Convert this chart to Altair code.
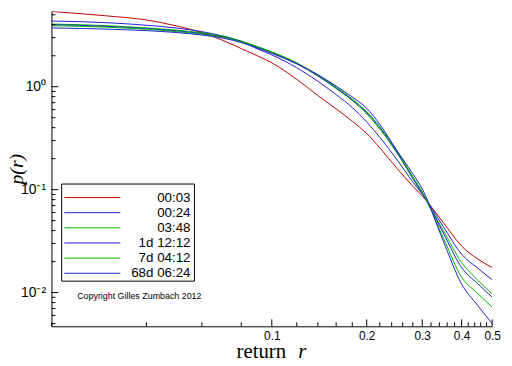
import altair as alt
import pandas as pd

# ---- data ----
x_vals = [0.02, 0.03, 0.04, 0.05, 0.06, 0.07, 0.08, 0.09, 0.1, 0.12, 0.14, 0.16,
          0.18, 0.2, 0.22, 0.25, 0.28, 0.3, 0.35, 0.4, 0.45, 0.5]
series_names = ["00:03", "00:24", "03:48", "1d 12:12", "7d 04:12", "68d 06:24"]
series_colors = ["#c00000", "#2020d0", "#00b400", "#2020d0", "#00b400", "#2020d0"]

p_0003 = [5.38, 4.88, 4.46, 3.89, 3.36, 2.82, 2.35, 2.00, 1.71, 1.18, 0.821, 0.609,
          0.462, 0.351, 0.255, 0.160, 0.108, 0.087, 0.0479, 0.0283, 0.0212, 0.0175]
p_0024 = [4.35, 4.19, 3.96, 3.71, 3.43, 3.11, 2.75, 2.33, 2.04, 1.53, 1.13, 0.839,
          0.628, 0.455, 0.323, 0.194, 0.119, 0.0909, 0.0438, 0.0236, 0.0173, 0.0133]
p_0348 = [4.07, 3.92, 3.73, 3.54, 3.34, 3.10, 2.78, 2.46, 2.18, 1.69, 1.27, 0.961,
          0.735, 0.546, 0.388, 0.225, 0.128, 0.0919, 0.0401, 0.0196, 0.0132, 0.00972]
p_1d = [4.01, 3.86, 3.67, 3.49, 3.28, 3.05, 2.75, 2.42, 2.15, 1.68, 1.28, 0.972,
        0.745, 0.559, 0.401, 0.230, 0.131, 0.0929, 0.0378, 0.0175, 0.0122, 0.00903]
p_7d = [3.92, 3.79, 3.62, 3.43, 3.24, 3.02, 2.74, 2.44, 2.17, 1.71, 1.30, 0.993,
        0.762, 0.571, 0.410, 0.236, 0.134, 0.0950, 0.0340, 0.0141, 0.0098, 0.00724]
p_68d = [3.73, 3.63, 3.51, 3.36, 3.18, 2.97, 2.69, 2.38, 2.11, 1.67, 1.31, 1.016,
         0.796, 0.618, 0.432, 0.237, 0.143, 0.1016, 0.0316, 0.0121, 0.0075, 0.0050]

x_ticks_major = [0.1, 0.2, 0.3, 0.4, 0.5]
x_ticks_minor = [0.02, 0.04, 0.06, 0.08, 0.12, 0.14, 0.16, 0.18, 0.22, 0.24, 0.26,
                 0.28, 0.32, 0.34, 0.36, 0.38, 0.42, 0.44, 0.46, 0.48]
y_ticks_major = [0.01, 0.1, 1]
y_ticks_minor = [0.005, 0.006, 0.007, 0.008, 0.009,
                 0.02, 0.03, 0.04, 0.05, 0.06, 0.07, 0.08, 0.09,
                 0.2, 0.3, 0.4, 0.5, 0.6, 0.7, 0.8, 0.9,
                 2, 3, 4, 5]

W, H = 446, 319
SANS = "Liberation Sans"
SERIF = "Liberation Serif"

rows = []
for name, vals in zip(series_names, [p_0003, p_0024, p_0348, p_1d, p_7d, p_68d]):
    for xv, pv in zip(x_vals, vals):
        rows.append({"r": xv, "p": pv, "series": name})
df = pd.DataFrame(rows)

xs = alt.Scale(type="log", domain=[0.02, 0.5], nice=False)
ys = alt.Scale(type="log", domain=[0.0047, 5.43], nice=False)

lines = alt.Chart(df).mark_line(strokeWidth=1, clip=True, interpolate="monotone").encode(
    x=alt.X("r:Q", scale=xs, axis=alt.Axis(
        orient="bottom", values=x_ticks_major, format=".1f", ticks=False, grid=False,
        title=None, domainColor="black", domainWidth=1, labelColor="black", labelFont=SANS,
        labelFontSize=12, labelPadding=4, labelFlush=False, labelOverlap=False)),
    y=alt.Y("p:Q", scale=ys, axis=alt.Axis(
        orient="left", values=y_ticks_major, ticks=False, grid=False, title=None,
        labelExpr="datum.value > 0.5 ? '10\u2070' : (datum.value > 0.05 ? '10\u207b\u00b9' : '10\u207b\u00b2')",
        domainColor="black", domainWidth=1, labelColor="black", labelFont=SANS,
        labelFontSize=14, labelPadding=6, labelOverlap=False)),
    color=alt.Color("series:N", scale=alt.Scale(domain=series_names, range=series_colors),
                    legend=None),
)

def xtick(vals, length):
    return alt.Chart(pd.DataFrame({"v": vals})).mark_rule(color="black", strokeWidth=1).encode(
        x=alt.X("v:Q", scale=xs, axis=None), y=alt.value(H), y2=alt.value(H - length))

def ytick(vals, length):
    return alt.Chart(pd.DataFrame({"v": vals})).mark_rule(color="black", strokeWidth=1).encode(
        y=alt.Y("v:Q", scale=ys, axis=None), x=alt.value(0), x2=alt.value(length))

one = pd.DataFrame({"k": [0]})

legend_box = alt.Chart(one).mark_rect(fill="white", stroke="black", strokeWidth=1).encode(
    x=alt.value(10.3), x2=alt.value(144.7), y=alt.value(175), y2=alt.value(273.3))

legend_layers = []
for i, (name, col) in enumerate(zip(series_names, series_colors)):
    yy = 188.7 + i * 15.32
    d = pd.DataFrame({"series": [name]})
    legend_layers.append(alt.Chart(d).mark_rule(color=col, strokeWidth=1).encode(
        x=alt.value(13), x2=alt.value(69.7), y=alt.value(yy)))
    legend_layers.append(alt.Chart(d).mark_text(
        align="right", baseline="middle", font=SANS, fontSize=13.5, color="black").encode(
        x=alt.value(140.7), y=alt.value(yy), text="series:N"))

copyright_txt = alt.Chart(one).mark_text(
    align="left", baseline="middle", font=SANS, fontSize=9, color="black").encode(
    x=alt.value(26), y=alt.value(288), text=alt.value("Copyright Gilles Zumbach 2012"))

xtitle1 = alt.Chart(one).mark_text(
    align="left", baseline="alphabetic", font=SERIF, fontSize=21, color="black").encode(
    x=alt.value(187.3), y=alt.value(351), text=alt.value("return"))
xtitle2 = alt.Chart(one).mark_text(
    align="left", baseline="alphabetic", font=SERIF, fontSize=21, fontStyle="italic",
    color="black").encode(x=alt.value(249.7), y=alt.value(351), text=alt.value("r"))
ytitle = alt.Chart(one).mark_text(
    align="center", baseline="middle", font=SERIF, fontSize=20, fontStyle="italic",
    angle=270, color="black").encode(x=alt.value(-35), y=alt.value(160),
                                     text=alt.value("p(r)"))

chart = alt.layer(
    lines,
    xtick(x_ticks_major, 7), xtick(x_ticks_minor, 4),
    ytick(y_ticks_major, 7), ytick(y_ticks_minor, 4),
    legend_box, *legend_layers, copyright_txt, xtitle1, xtitle2, ytitle,
).resolve_axis(
    x="independent", y="independent"
).properties(
    width=W, height=H,
    autosize=alt.AutoSizeParams(type="none"),
    padding={"left": 44, "top": 1, "right": 12, "bottom": 38},
).configure_view(stroke=None)

chart.save("out.html", embed_options={"renderer": "svg", "actions": False})
